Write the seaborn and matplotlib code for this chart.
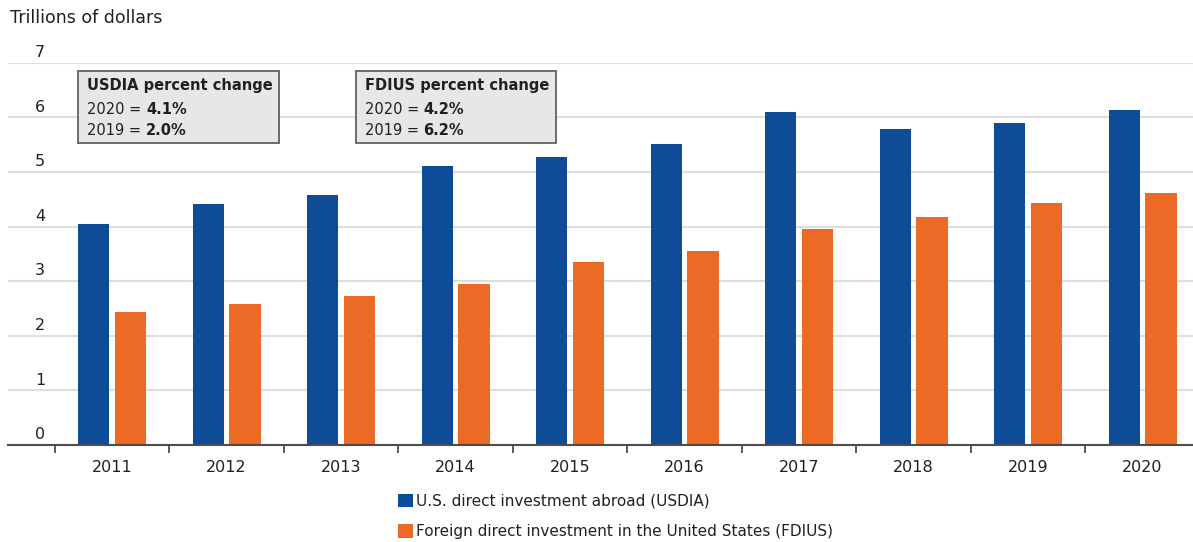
import pandas as pd
import seaborn as sns
import matplotlib.pyplot as plt
import matplotlib.transforms as mtrans
from matplotlib.patches import Rectangle

years = ["2011", "2012", "2013", "2014", "2015", "2016", "2017", "2018", "2019", "2020"]
usdia = [4.05, 4.41, 4.57, 5.10, 5.28, 5.51, 6.09, 5.78, 5.89, 6.14]
fdius = [2.43, 2.59, 2.72, 2.95, 3.35, 3.56, 3.95, 4.18, 4.44, 4.61]
series_names = ["U.S. direct investment abroad (USDIA)",
                "Foreign direct investment in the United States (FDIUS)"]
y_ticks = [0, 1, 2, 3, 4, 5, 6, 7]
usdia_note = ["USDIA percent change", ("2020 = ", "4.1%"), ("2019 = ", "2.0%")]
fdius_note = ["FDIUS percent change", ("2020 = ", "4.2%"), ("2019 = ", "6.2%")]

BLUE = "#0f4c97"
ORANGE = "#ec6a25"
TXT = "#231f20"

df = pd.DataFrame({
    "year": years * 2,
    "value": usdia + fdius,
    "series": [series_names[0]] * len(years) + [series_names[1]] * len(years),
})

sns.set_style("white")
plt.rcParams["font.family"] = ["DejaVu Sans"]

fig = plt.figure(figsize=(11.93, 5.42), dpi=100)
ax = fig.add_axes([0.0067, 0.179, 0.9933, 0.7053])

sns.barplot(data=df, x="year", y="value", hue="series", palette=[BLUE, ORANGE],
            width=0.64, gap=0.15, linewidth=0, saturation=1, ax=ax)
ax.get_legend().remove()

ax.set_xlim(-0.91, 9.44)
ax.set_ylim(0, 7)
ax.set_xlabel("")
ax.set_ylabel("")

# grid + axis
ax.set_yticks(y_ticks)
ax.set_yticklabels([])
ax.tick_params(axis="y", length=0)
for v in y_ticks[1:]:
    ax.axhline(v, color="#dedede", lw=1.5, zorder=0)
for s in ["top", "right", "left"]:
    ax.spines[s].set_visible(False)
ax.spines["bottom"].set_color("#4d4d4d")
ax.spines["bottom"].set_linewidth(1.5)

# year labels centred, separator ticks between categories
ax.set_xticks(range(len(years)))
ax.set_xticklabels(years, fontsize=11.5, color=TXT)
ax.set_xticks([i - 0.5 for i in range(len(years))], minor=True)
ax.tick_params(axis="x", which="major", length=0, pad=11)
ax.tick_params(axis="x", which="minor", bottom=True, length=6, width=1.3,
               color="#4d4d4d", direction="out")

lab_tr = mtrans.offset_copy(ax.transData, fig=fig, x=0, y=2, units="points")
for v in y_ticks:
    ax.text(-0.63, v, str(v), ha="center", va="bottom", fontsize=11.5, color=TXT,
            transform=lab_tr)

fig.text(10 / 1193, 1 - 18 / 542, "Trillions of dollars", ha="left", va="center",
         fontsize=12.5, color=TXT)

# annotation boxes
fig.canvas.draw()
renderer = fig.canvas.get_renderer()


def note_box(x0, x1, y0, y1, lines):
    ax.add_patch(Rectangle((x0, y0), x1 - x0, y1 - y0, facecolor="#e6e7e8",
                           edgecolor="#6b6b6b", lw=1.4, zorder=5, clip_on=False))
    tx = x0 + 0.08
    ax.text(tx, y1 - 0.25, lines[0], fontsize=10.5, fontweight="bold", color=TXT,
            va="center", ha="left", zorder=6)
    for k, (plain, bold) in enumerate(lines[1:]):
        yy = y1 - 0.69 - k * 0.40
        t = ax.text(tx, yy, plain, fontsize=10.5, color=TXT, va="center", ha="left", zorder=6)
        w = t.get_window_extent(renderer=renderer).width
        tr = mtrans.offset_copy(ax.transData, fig=fig, x=w * 72 / fig.dpi, y=0, units="points")
        ax.text(tx, yy, bold, fontsize=10.5, fontweight="bold", color=TXT, va="center",
                ha="left", zorder=6, transform=tr)


note_box(-0.296, 1.456, 5.53, 6.84, usdia_note)
note_box(2.126, 3.873, 5.53, 6.84, fdius_note)

handles, labels = ax.get_legend_handles_labels()
fig.legend(handles, labels, loc="upper left", bbox_to_anchor=(398 / 1193, 1 - 494 / 542),
           frameon=False, fontsize=11, handlelength=0.95, handleheight=0.95,
           handletextpad=0.25, labelspacing=1.0, borderpad=0, borderaxespad=0,
           labelcolor=TXT)

fig.savefig("out.png", dpi=100)
